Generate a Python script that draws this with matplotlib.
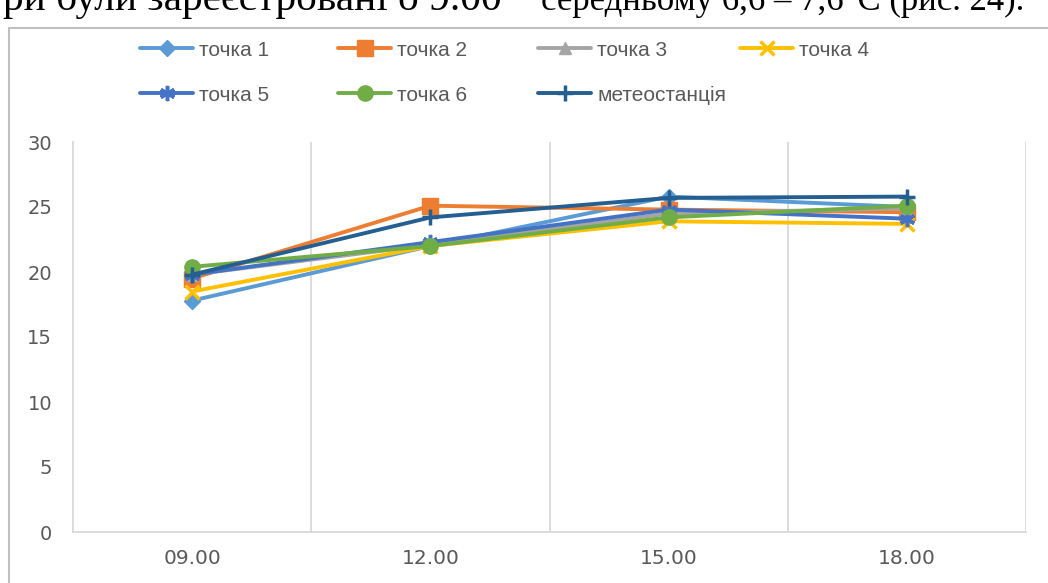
import matplotlib
matplotlib.use("Agg")
import matplotlib.pyplot as plt
from matplotlib.patches import Rectangle

categories = ["09.00", "12.00", "15.00", "18.00"]
series_names = ["точка 1", "точка 2", "точка 3", "точка 4", "точка 5", "точка 6", "метеостанція"]
p1 = [17.8, 22.0, 25.8, 25.0]
p2 = [19.5, 25.1, 24.8, 24.6]
p3 = [19.8, 22.1, 24.5, 24.9]
p4 = [18.5, 22.0, 23.9, 23.7]
p5 = [19.8, 22.3, 24.8, 24.1]
p6 = [20.4, 22.0, 24.2, 25.1]
meteo = [19.8, 24.2, 25.7, 25.8]
yticks = [0, 5, 10, 15, 20, 25, 30]
page_text_a = "ри були зареєстровані о 9.00"
page_text_b = "середньому 6,6 – 7,6°C (рис. 24)."

series = [p1, p2, p3, p4, p5, p6, meteo]
colors = ["#5B9BD5", "#ED7D31", "#A5A5A5", "#FFC000", "#4472C4", "#70AD47", "#255E91"]
markers = ["D", "s", "^", "x", (6, 2, 0), "o", "+"]
msizes = [8, 11, 9, 10, 11, 11, 12]

plt.rcParams['font.family'] = ['Liberation Sans', 'DejaVu Sans']
txt_color = "#595959"
grid_color = "#D9D9D9"

fig = plt.figure(figsize=(10.48, 5.83), dpi=100)
W, H = 1048, 583

# chart frame
fig.patches.append(Rectangle((9 / W, -0.1), 1.2, (H - 28) / H + 0.1, transform=fig.transFigure,
                             fill=False, edgecolor="#BFBFBF", linewidth=1.5, zorder=0))

# page text above the chart (only its lower part is visible in the picture)
renderer = fig.canvas.get_renderer()
for s, x0, x1 in [(page_text_a, 3, 500), (page_text_b, 541, 1023)]:
    t = fig.text(x0 / W, 1.0 - 10 / H, s, family=['Liberation Serif', 'DejaVu Serif'],
                 fontsize=30, color="black", va="baseline", ha="left")
    w = t.get_window_extent(renderer).width
    t.set_fontsize(30 * (x1 - x0) / w)

left, right, top, bottom = 73, 1026, 142, 532
ax = fig.add_axes([left / W, (H - bottom) / H, (right - left) / W, (bottom - top) / H])

x = list(range(len(categories)))
handles = []
for s, name, c, m, ms in zip(series, series_names, colors, markers, msizes):
    lw_m = 2.5 if m in ("x", "+") or isinstance(m, tuple) else 1
    ln, = ax.plot(x, s, color=c, linewidth=2.8, marker=m, markersize=ms,
                  markeredgewidth=lw_m, markeredgecolor=c, markerfacecolor=c,
                  solid_capstyle="round", label=name, zorder=3)
    handles.append(ln)

ax.set_xlim(-0.5, len(categories) - 0.5)
ax.set_ylim(0, 30)
ax.set_yticks(yticks)
ax.set_xticks(x)
ax.set_xticklabels(categories)
for b in [0.5, 1.5, 2.5, 3.5]:
    ax.axvline(b, color=grid_color, linewidth=1.3, zorder=1)
for sp in ["top", "right"]:
    ax.spines[sp].set_visible(False)
for sp in ["left", "bottom"]:
    ax.spines[sp].set_color(grid_color)
    ax.spines[sp].set_linewidth(1.3)
ax.tick_params(axis="both", length=0, colors=txt_color)
ax.tick_params(axis="x", pad=12)
ax.tick_params(axis="y", pad=15)
for lab in ax.get_yticklabels():
    lab.set_family(['DejaVu Sans'])
    lab.set_fontsize(14)
    lab.set_color(txt_color)
for lab in ax.get_xticklabels():
    lab.set_family(['DejaVu Sans'])
    lab.set_fontsize(14.5)
    lab.set_color(txt_color)

# legend: each entry placed individually on a 2-row grid
pos = [(140, 50), (338, 50), (538, 50), (740, 50),
       (140, 95), (338, 95), (538, 95)]
for h, (px, py) in zip(handles, pos):
    fig.legend([h], [h.get_label()], loc="center left",
               bbox_to_anchor=(px / W, 1 - py / H), frameon=False,
               fontsize=15, handlelength=2.55, handletextpad=0.3, borderpad=0,
               borderaxespad=0, labelcolor=txt_color)

fig.savefig("out.png", dpi=100)
